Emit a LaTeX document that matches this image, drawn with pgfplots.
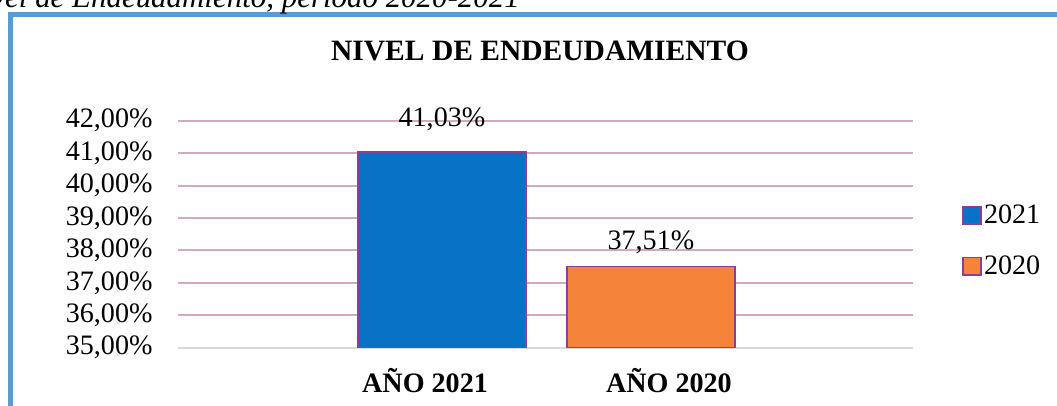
\documentclass[border=0pt]{standalone}
\usepackage{fontspec}
\setmainfont{Liberation Serif}
\usepackage{pgfplots}
\pgfplotsset{compat=1.18}

\definecolor{frameblue}{HTML}{5B9BD5}
\definecolor{barblue}{HTML}{0873C6}
\definecolor{barorange}{HTML}{F5843A}
\definecolor{barborder}{HTML}{8B3F97}
\definecolor{gridpink}{HTML}{D3A9BF}
\definecolor{basegray}{HTML}{D9D9D9}

\newcommand{\chartfont}{\fontsize{20}{24}\selectfont}

\begin{document}
\begin{tikzpicture}
% page = 1057 x 405 px, 1 px = 0.025 cm
\path[use as bounding box, clip] (0,0) rectangle (26.425,10.125);
\draw[frameblue, line width=0.125cm] (0.2625,-2) rectangle (30,9.77);
\node[anchor=base east, font=\fontsize{22}{26}\selectfont\itshape, inner sep=0pt] at (13,9.93)
  {Nivel de Endeudamiento, periodo 2020-2021};
\node[anchor=base, font=\fontsize{21}{25}\selectfont\bfseries, inner sep=0pt] at (13.5,8.6)
  {NIVEL DE ENDEUDAMIENTO};

\begin{axis}[
    at={(4.45cm,1.4325cm)}, anchor=south west,
    scale only axis, width=18.375cm, height=5.675cm,
    xmin=-1.263, xmax=2.254,
    ymin=35, ymax=42,
    ytick={35,36,37,38,39,40,41,42},
    yticklabel={\pgfmathprintnumber[fixed,zerofill,precision=2,use comma]{\tick}\%},
    /pgf/number format/assume math mode=true,
    xtick={-0.081,1.086},
    xticklabels={AÑO 2021,AÑO 2020},
    tick label style={font=\chartfont},
    xticklabel style={font=\chartfont\bfseries, anchor=base, yshift=-1.13cm},
    yticklabel style={anchor=east, inner sep=0pt, xshift=-0.63cm},
    major tick length=0pt,
    axis y line*=left, y axis line style={draw=none},
    axis x line*=bottom, x axis line style={draw=basegray, line width=0.05cm, -},
    ymajorgrids,
    grid style={color=gridpink, line width=0.05cm},
    legend style={at={(1.0667,0.64)}, anchor=north west, draw=none, fill=none,
      font=\chartfont, row sep=0.65cm, inner sep=0pt, nodes={inner sep=1.5pt}},
    legend cell align=left,
    legend image code/.code={\draw[#1, line width=0.04cm] (0cm,-0.22cm) rectangle (0.45cm,0.22cm);},
]
\addplot[ybar, bar shift=0pt, bar width=0.804, fill=barblue, draw=barborder, line width=0.04cm,
    nodes near coords={\pgfmathprintnumber[fixed,zerofill,precision=2,use comma]{\pgfplotspointmeta}\%},
    every node near coord/.append style={font=\chartfont, text=black, anchor=base, yshift=0.65cm}]
    coordinates {(0,41.03)};
\addplot[ybar, bar shift=0pt, bar width=0.804, fill=barorange, draw=barborder, line width=0.04cm,
    nodes near coords={\pgfmathprintnumber[fixed,zerofill,precision=2,use comma]{\pgfplotspointmeta}\%},
    every node near coord/.append style={font=\chartfont, text=black, anchor=base, yshift=0.43cm}]
    coordinates {(1,37.51)};
\legend{2021,2020}
\end{axis}
\end{tikzpicture}
\end{document}
